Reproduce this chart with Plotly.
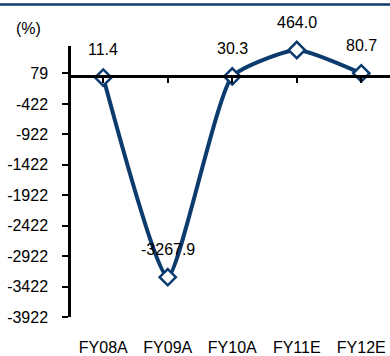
import plotly.graph_objects as go

categories = ["FY08A", "FY09A", "FY10A", "FY11E", "FY12E"]
values = [11.4, -3267.9, 30.3, 464.0, 80.7]
labels = ["11.4", "-3267.9", "30.3", "464.0", "80.7"]
y_ticks = [79, -422, -922, -1422, -1922, -2422, -2922, -3422, -3922]

NAVY = "#0c3b6e"
FONT = "Liberation Sans, Arial, sans-serif"
y_min, y_max = -3922, 530
cross_at = 40

x_idx = list(range(len(categories)))

fig = go.Figure()
fig.add_trace(go.Scatter(
    x=x_idx, y=values, mode="lines+markers",
    line=dict(color=NAVY, width=4, shape="spline", smoothing=0.5),
    marker=dict(symbol="diamond", size=12.5, color="white",
                line=dict(color=NAVY, width=2.5)),
    cliponaxis=False, showlegend=False, hoverinfo="skip",
))
# dummy trace for the crossing axis
fig.add_trace(go.Scatter(x=x_idx, y=values, xaxis="x2", mode="none",
                         showlegend=False, hoverinfo="skip"))

for xi, v, t in zip(x_idx, values, labels):
    fig.add_annotation(x=xi, y=v, text=t, showarrow=False, yshift=28,
                       font=dict(family=FONT, size=16, color="black"))

fig.add_annotation(xref="paper", yref="paper", x=-0.132, y=1.066, text="(%)",
                   xanchor="center", yanchor="middle",
                   showarrow=False, font=dict(family=FONT, size=16, color="black"))

fig.add_shape(type="line", xref="paper", yref="paper", x0=-0.3, x1=1.0,
              y0=1.153, y1=1.153, line=dict(color=NAVY, width=2.5))

x_range = [-0.5, 4.445]
fig.update_layout(
    width=390, height=356,
    margin=dict(l=71, r=0, t=46, b=39, autoexpand=False),
    paper_bgcolor="white", plot_bgcolor="white",
    font=dict(family=FONT, size=16, color="black"),
    xaxis=dict(range=x_range, tickmode="array", tickvals=x_idx,
               ticktext=categories, showline=False, showgrid=False,
               zeroline=False, ticks="outside", ticklen=16, automargin=False,
               tickcolor="rgba(0,0,0,0)", tickfont=dict(size=16)),
    xaxis2=dict(range=x_range, overlaying="x", anchor="free",
                position=(cross_at - y_min) / (y_max - y_min), automargin=False,
                tickmode="array", tickvals=x_idx, tickson="boundaries",
                showticklabels=False, showline=True, linecolor="black",
                linewidth=2.5, ticks="outside", ticklen=5, tickwidth=2,
                tickcolor="black", showgrid=False, zeroline=False),
    yaxis=dict(range=[y_min, y_max], tickmode="array", tickvals=y_ticks,
               ticktext=[str(v) for v in y_ticks], showline=True, automargin=False,
               linecolor="black", linewidth=2.5, ticks="outside", ticklen=6,
               tickwidth=2, tickcolor="black", showgrid=False, zeroline=False,
               tickfont=dict(size=16), ticklabelstandoff=11),
)

fig.write_html("out.html", config={"displayModeBar": False},
               post_script="document.body.style.margin='0';"
                           "document.body.style.overflow='hidden';")
